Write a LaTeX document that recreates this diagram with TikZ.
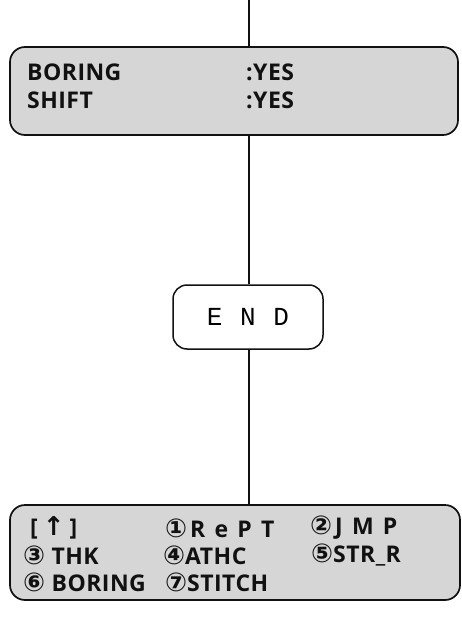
\documentclass[tikz,border=0pt]{standalone}
\usepackage{fontspec}
\setmainfont{Open Sans}
\newfontfamily\symfont{DejaVu Sans}
\newfontfamily\endfont{Liberation Mono}
\usetikzlibrary{positioning}
\definecolor{panelfill}{HTML}{D6D6D6}
\definecolor{panelline}{HTML}{111111}
\newcommand\cnum[1]{{\symfont\fontsize{26}{24}\selectfont #1}}
\tikzset{
  panel/.style={draw=panelline, fill=panelfill, line width=1.7pt,
                rounded corners=15pt, inner sep=0pt},
  endbox/.style={draw=panelline, fill=white, line width=1.5pt,
                 rounded corners=14pt, inner sep=0pt},
  flowline/.style={draw=panelline, line width=1.3pt},
  paneltxt/.style={anchor=west, inner sep=0pt, text=panelline,
                   font=\fontsize{23}{26}\selectfont\bfseries\addfontfeatures{LetterSpace=2}},
  widetxt/.style={paneltxt, font=\fontsize{23}{26}\selectfont\bfseries\addfontfeatures{LetterSpace=40}}
}

\begin{document}
\begin{tikzpicture}[x=1pt, y=1pt]
        \useasboundingbox (0,0) rectangle (462,-644);
        \coordinate (top) at (249,0);
        % settings panel
        \node[panel, minimum width=448pt, minimum height=88pt] (status) at (234,-91) {};
        \node[paneltxt] (boringlbl) at (27,-72) {BORING};
        \node[paneltxt] (boringval) at (246,-72) {:YES};
        \node[paneltxt] (shiftlbl) at (27,-100) {SHIFT};
        \node[paneltxt] (shiftval) at (246,-100) {:YES};
        % end step
        \node[endbox, minimum width=150pt, minimum height=64pt,
              font=\endfont\fontsize{26}{30}\selectfont\addfontfeatures{LetterSpace=8}] (endstep) at (248,-317) {E N D};
        % menu panel
        \node[panel, minimum width=450pt, minimum height=95pt] (menu) at (235,-552.5) {};
        \node[widetxt] (mback) at (30,-528) {[\hspace{5pt}\cnum{↑}\hspace{5pt}]};
        \node[widetxt] (mrept) at (165,-528) {\cnum{①}\hspace{3pt}RePT};
        \node[widetxt] (mjmp) at (310,-528) {\cnum{②}\hspace{3pt}JMP};
        \node[paneltxt] (mthk) at (23,-555) {\cnum{③} THK};
        \node[paneltxt] (mathc) at (163,-555) {\cnum{④}ATHC};
        \node[paneltxt] (mstr) at (311,-555) {\cnum{⑤}STR\_R};
        \node[paneltxt] (mboring) at (23,-582) {\cnum{⑥} BORING};
        \node[paneltxt] (mstitch) at (165,-582) {\cnum{⑦}STITCH};
        \draw[flowline] (top) -- (status.north -| top);
        \draw[flowline] (status.south -| top) -- (endstep.north -| top);
        \draw[flowline] (endstep.south -| top) -- (menu.north -| top);
      \end{tikzpicture}
\end{document}
